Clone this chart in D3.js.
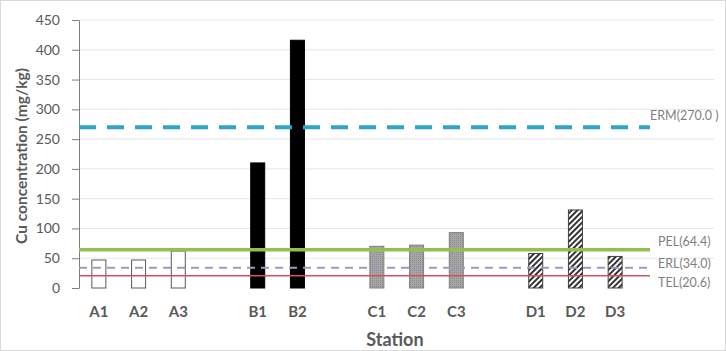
<!DOCTYPE html>
<html>
<head>
<meta charset="utf-8">
<script src="https://cdn.jsdelivr.net/npm/d3@7"></script>
<style>
  html, body { margin: 0; padding: 0; background: #fff; }
  svg { display: block; }
</style>
</head>
<body>
<div id="chart"></div>
<script>
// station slots ("_g" entries are the empty gaps between groups)
const stations = ['A1', 'A2', 'A3', '_g1', 'B1', 'B2', '_g2', 'C1', 'C2', 'C3', '_g3', 'D1', 'D2', 'D3'];
const cuValues = [47, 47, 62, null, 210, 416, null, 70, 72, 93, null, 58, 131, 53];
const groups   = ['A', 'A', 'A', null, 'B', 'B', null, 'C', 'C', 'C', null, 'D', 'D', 'D'];
const yTicks = [0, 50, 100, 150, 200, 250, 300, 350, 400, 450];
const guideNames  = ['ERM', 'PEL', 'ERL', 'TEL'];
const guideValues = [270.0, 64.4, 34.0, 20.6];
const guideLabels = ['ERM(270.0 )', 'PEL(64.4)', 'ERL(34.0)', 'TEL(20.6)'];

const W = 726, H = 351;
const margin = { top: 20, right: 91, bottom: 63, left: 79 };
const font = "Lato, 'Open Sans', sans-serif";

const svg = d3.select('#chart').append('svg').attr('width', W).attr('height', H);

// outer chart border
svg.append('rect')
  .attr('x', 0.5).attr('y', 0.5).attr('width', W - 1).attr('height', H - 1)
  .attr('fill', '#fff').attr('stroke', '#d9d9d9');

const defs = svg.append('defs');
const hatch = defs.append('pattern')
  .attr('id', 'hatch').attr('patternUnits', 'userSpaceOnUse')
  .attr('width', 4).attr('height', 4).attr('patternTransform', 'rotate(45)');
hatch.append('rect').attr('width', 4).attr('height', 4).attr('fill', '#fff');
hatch.append('rect').attr('width', 2).attr('height', 4).attr('fill', '#333');

const dots = defs.append('pattern')
  .attr('id', 'dots').attr('patternUnits', 'userSpaceOnUse')
  .attr('width', 2).attr('height', 2);
dots.append('rect').attr('width', 2).attr('height', 2).attr('fill', '#a6a6a6');
dots.append('rect').attr('width', 1).attr('height', 1).attr('fill', '#8c8c8c');

const x = d3.scaleBand().domain(stations).range([margin.left, 635]).padding(0);
const y = d3.scaleLinear().domain([0, 450]).range([288, margin.top]);
const plotRight = 714;
const lineEnd = 650;

// grid
svg.append('g').selectAll('line')
  .data(yTicks.filter(d => d > 0)).enter().append('line')
  .attr('x1', margin.left).attr('x2', plotRight)
  .attr('y1', d => y(d)).attr('y2', d => y(d))
  .attr('stroke', '#e6e6e6').attr('stroke-width', 1);

// y axis
const yAxis = svg.append('g')
  .attr('transform', `translate(${margin.left},0)`)
  .call(d3.axisLeft(y).tickValues(yTicks).tickSize(7).tickSizeOuter(0).tickPadding(12));
yAxis.select('.domain').attr('stroke', '#7f7f7f');
yAxis.selectAll('.tick line').attr('stroke', '#7f7f7f');
yAxis.selectAll('.tick text')
  .attr('fill', '#595959').attr('font-family', font).attr('font-size', '14px');

svg.append('text')
  .attr('transform', `translate(27,${(y(0) + y(450)) / 2 + 2}) rotate(-90)`)
  .attr('text-anchor', 'middle')
  .attr('fill', '#595959').attr('font-family', font).attr('font-size', '15.5px')
  .attr('font-weight', 'bold')
  .text('Cu concentration (mg/kg)');

// bars
const barW = 14;
const fills = { A: '#fff', B: '#000', C: 'url(#dots)', D: 'url(#hatch)' };
const strokes = { A: '#595959', B: '#000', C: '#7f7f7f', D: '#404040' };
const barData = stations.map((s, i) => ({ s, v: cuValues[i], g: groups[i] })).filter(d => d.v != null);

svg.append('g').selectAll('rect')
  .data(barData).enter().append('rect')
  .attr('x', d => x(d.s) + x.bandwidth() / 2 - barW / 2)
  .attr('y', d => y(d.v))
  .attr('width', barW)
  .attr('height', d => y(0) - y(d.v))
  .attr('fill', d => fills[d.g])
  .attr('stroke', d => strokes[d.g])
  .attr('stroke-width', 1);

// x labels
svg.append('g').selectAll('text')
  .data(barData).enter().append('text')
  .attr('x', d => x(d.s) + x.bandwidth() / 2)
  .attr('y', 317)
  .attr('text-anchor', 'middle')
  .attr('fill', '#595959').attr('font-family', font).attr('font-size', '15px')
  .attr('font-weight', 'bold')
  .text(d => d.s);

svg.append('text')
  .attr('x', 395).attr('y', 346)
  .attr('text-anchor', 'middle')
  .attr('fill', '#595959').attr('font-family', font).attr('font-size', '18px')
  .attr('font-weight', 'bold')
  .text('Station');

// guideline styles
const guideStyle = {
  ERM: { color: '#31a5c8', width: 4, dash: '17,11' },
  PEL: { color: '#92c050', width: 3.5, dash: null },
  ERL: { color: '#9b9bc9', width: 2, dash: '8,6' },
  TEL: { color: '#d2545a', width: 1.5, dash: null }
};
const labelDy = { ERM: -12, PEL: -8, ERL: -4, TEL: 7 };

guideNames.forEach((name, i) => {
  const st = guideStyle[name];
  const yy = y(guideValues[i]);
  svg.append('line')
    .attr('x1', margin.left).attr('x2', lineEnd)
    .attr('y1', yy).attr('y2', yy)
    .attr('stroke', st.color).attr('stroke-width', st.width)
    .attr('stroke-dasharray', st.dash);
  svg.append('text')
    .attr('x', name === 'ERM' ? 650 : 658)
    .attr('y', yy + labelDy[name])
    .attr('dy', '0.35em')
    .attr('fill', '#7f7f7f').attr('font-family', font).attr('font-size', '12.5px')
    .text(guideLabels[i]);
});
</script>
</body>
</html>
